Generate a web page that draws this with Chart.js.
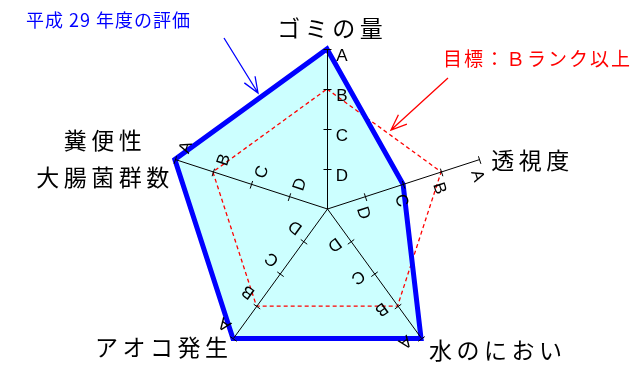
<!DOCTYPE html>
<html>
<head>
<meta charset="utf-8">
<script src="https://cdn.jsdelivr.net/npm/chart.js@4.4.1/dist/chart.umd.min.js"></script>
<style>
html, body { margin: 0; padding: 0; background: #fff; }
canvas { display: block; }
</style>
</head>
<body>
<canvas id="chart" width="636" height="365"></canvas>
<script>
'use strict'

// 評価項目（上から時計回り）
const categories = ['ゴミの量', '透視度', '水のにおい', 'アオコ発生', ['糞便性', '大腸菌群数']];
// ランク：D=1, C=2, B=3, A=4
const gradeValues = [1, 2, 3, 4];
const gradeLabels = ['D', 'C', 'B', 'A'];
const seriesNames = ['平成 29 年度の評価', '目標：Ｂランク以上'];
const result2017 = [4, 2, 4, 4, 4];
const targetB = [3, 3, 3, 3, 3];

const jpFont = '"Noto Sans CJK JP", "Noto Sans", sans-serif';

function spacedText(ctx, text, x, y, align, spacing) {
	ctx.letterSpacing = spacing + 'px';
	const w = ctx.measureText(text).width - spacing;
	let left = x;
	if (align === 'center') left = x - w / 2;
	if (align === 'right') left = x - w;
	ctx.textAlign = 'left';
	ctx.fillText(text, left, y);
	ctx.letterSpacing = '0px';
}

function arrow(ctx, x1, y1, x2, y2, color) {
	const a = Math.atan2(y2 - y1, x2 - x1);
	const len = 17, spread = 0.38;
	ctx.strokeStyle = color;
	ctx.lineWidth = 1.3;
	ctx.beginPath();
	ctx.moveTo(x1, y1);
	ctx.lineTo(x2, y2);
	ctx.moveTo(x2 - len * Math.cos(a - spread), y2 - len * Math.sin(a - spread));
	ctx.lineTo(x2, y2);
	ctx.lineTo(x2 - len * Math.cos(a + spread), y2 - len * Math.sin(a + spread));
	ctx.stroke();
}

// 各軸・目盛・ランク文字・項目名・注記
const gradeAxes = {
	id: 'gradeAxes',
	afterDatasetsDraw(chart) {
		const r = chart.scales.r;
		const ctx = chart.ctx;
		const topGrade = gradeValues[gradeValues.length - 1];
		ctx.save();
		ctx.strokeStyle = '#000';
		ctx.fillStyle = '#000';
		ctx.lineWidth = 1;
		ctx.font = '17px "Liberation Sans", Arial, sans-serif';
		ctx.textAlign = 'center';
		ctx.textBaseline = 'middle';
		categories.forEach((c, i) => {
			const end = r.getPointPositionForValue(i, topGrade);
			const ang = r.getIndexAngle(i);
			const ux = Math.sin(ang), uy = -Math.cos(ang);
			const px = -uy, py = ux;
			ctx.beginPath();
			ctx.moveTo(r.xCenter + 0.5, r.yCenter);
			ctx.lineTo(end.x + 0.5, end.y);
			ctx.stroke();
			gradeValues.forEach((v, k) => {
				const p = r.getPointPositionForValue(i, v);
				ctx.beginPath();
				ctx.moveTo(p.x + 0.5 - px * 4, p.y + 0.5 - py * 4);
				ctx.lineTo(p.x + 0.5 + px * 4, p.y + 0.5 + py * 4);
				ctx.stroke();
				ctx.save();
				ctx.translate(p.x + px * 15 - ux * 7, p.y + py * 15 - uy * 7);
				ctx.rotate(ang);
				ctx.fillText(gradeLabels[k], 0, 0);
				ctx.restore();
			});
		});

		// 項目名
		ctx.font = '23px ' + jpFont;
		ctx.textBaseline = 'middle';
		const sp = 4.5;
		const p0 = r.getPointPositionForValue(0, topGrade);
		spacedText(ctx, categories[0], p0.x + 3, p0.y - 21, 'center', sp);
		const p1 = r.getPointPositionForValue(1, topGrade);
		spacedText(ctx, categories[1], p1.x + 12, p1.y + 1, 'left', sp);
		const p2 = r.getPointPositionForValue(2, topGrade);
		spacedText(ctx, categories[2], p2.x + 8, p2.y + 12, 'left', sp);
		const p3 = r.getPointPositionForValue(3, topGrade);
		spacedText(ctx, categories[3], p3.x - 5, p3.y + 9, 'right', sp);
		const p4 = r.getPointPositionForValue(4, topGrade);
		spacedText(ctx, categories[4][0], p4.x - 72, p4.y - 19, 'center', sp);
		spacedText(ctx, categories[4][1], p4.x - 72, p4.y + 18, 'center', sp);

		// 注記
		ctx.font = '18px ' + jpFont;
		ctx.fillStyle = '#0000ff';
		spacedText(ctx, seriesNames[0], 26, 20, 'left', 1);
		arrow(ctx, 224, 38, 258, 93, '#0000ff');
		ctx.font = '19px ' + jpFont;
		ctx.fillStyle = '#ff0000';
		spacedText(ctx, seriesNames[1], 443, 59, 'left', 2);
		arrow(ctx, 448, 78, 391, 130, '#ff0000');
		ctx.restore();
	}
};

new Chart(document.getElementById('chart'), {
	type: 'radar',
	data: {
		labels: categories,
		datasets: [
			{
				label: seriesNames[0],
				data: result2017,
				borderColor: '#0000ff',
				borderWidth: 5,
				fill: false,
				pointRadius: 0,
				order: 1,
				clip: false,
			},
			{
				label: seriesNames[1],
				data: targetB,
				borderColor: '#ff0000',
				borderWidth: 1.3,
				borderDash: [4, 3],
				fill: false,
				pointRadius: 0,
				order: 2,
				clip: false,
			},
			{
				label: '',
				data: result2017,
				backgroundColor: '#ccffff',
				borderWidth: 0,
				fill: true,
				pointRadius: 0,
				order: 3,
				clip: false,
			},
		],
	},
	options: {
		responsive: false,
		animation: false,
		layout: {
			padding: { top: 55, bottom: 2, left: 18, right: 0 },
		},
		plugins: {
			legend: { display: false },
			tooltip: { enabled: false },
		},
		scales: {
			r: {
				min: 0,
				max: 3.85,
				ticks: { display: false },
				grid: { display: false },
				angleLines: { display: false },
				pointLabels: { display: false },
			},
		},
	},
	plugins: [gradeAxes],
});
</script>
</body>
</html>
